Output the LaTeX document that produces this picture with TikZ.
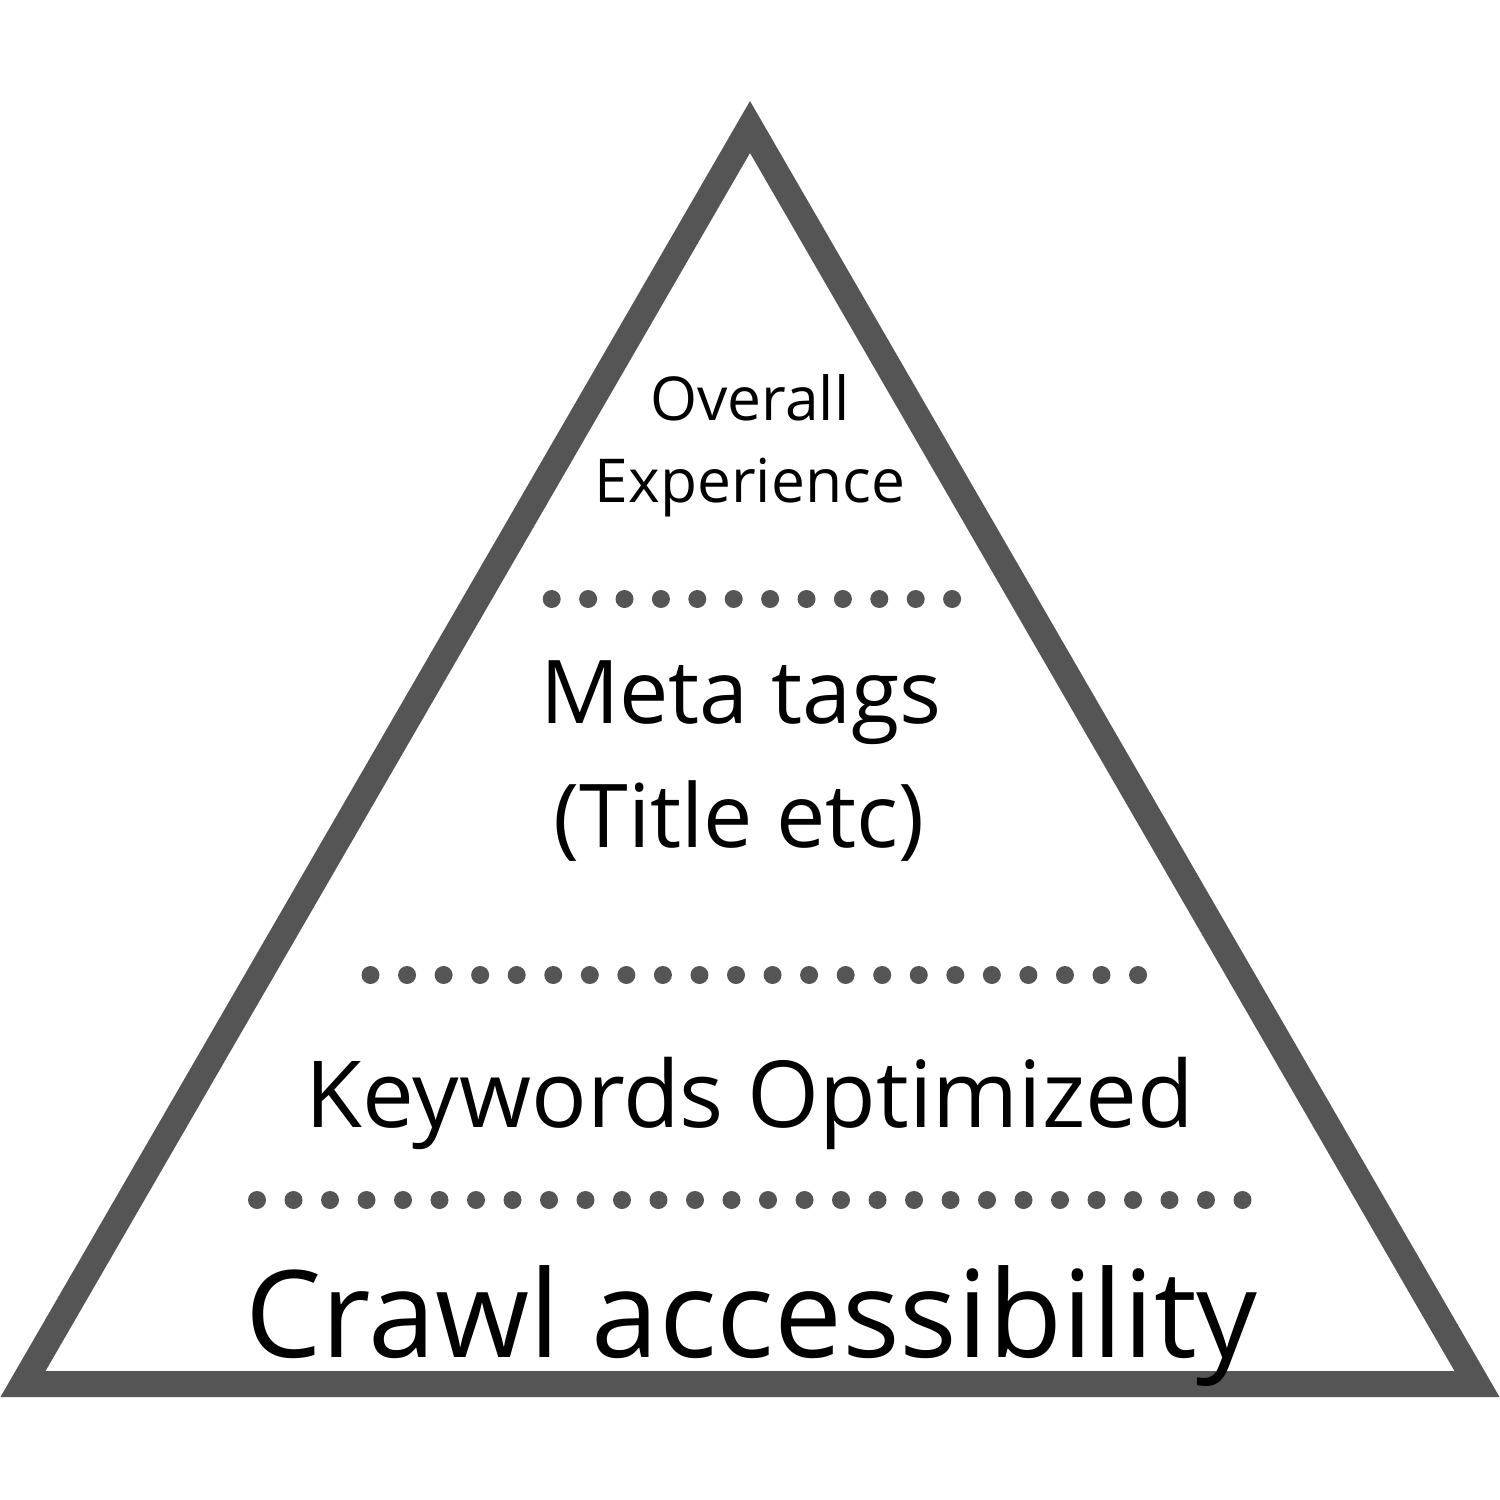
\documentclass[tikz,border=0pt]{standalone}
\usepackage{fontspec}
\setmainfont{Open Sans}
\definecolor{tri}{HTML}{555555}
\tikzset{
  px/.style={x=1pt,y=-1pt},
  label60/.style={anchor=base,inner sep=0pt,font=\fontsize{60.5}{82}\selectfont},
  label88/.style={anchor=base,inner sep=0pt,font=\fontsize{88}{124}\selectfont},
  label92/.style={anchor=base,inner sep=0pt,font=\fontsize{92.5}{120}\selectfont},
  label121/.style={anchor=base,inner sep=0pt,font=\fontsize{121}{150}\selectfont},
  dotfill/.style={fill=tri,draw=none}
}
\begin{document}
\begin{tikzpicture}[px]
\useasboundingbox (0,0) rectangle (1500,1500);
\fill[white] (0,0) rectangle (1500,1500);
% triangle
\coordinate (apex) at (750,127);
\coordinate (bl) at (23,1384);
\coordinate (br) at (1477,1384);
\draw[tri,line width=26pt,line join=miter] (apex) -- (bl) -- (br) -- cycle;
% dotted separators
\foreach \i in {0,...,11} {\fill[dotfill] (551.7+36.4*\i,599) circle (9);}
\foreach \i in {0,...,21} {\fill[dotfill] (370.5+36.55*\i,975) circle (9);}
\foreach \i in {0,...,27} {\fill[dotfill] (257+36.5*\i,1200) circle (9);}
% labels
\node[label60] (ov1) at (750,420) {Overall};
\node[label60] (ov2) at (750,502) {Experience};
\node[label88] (mt1) at (741,723) {Meta tags};
\node[label88] (mt2) at (739,847) {(Title etc)};
\node[label92] (kw) at (750,1127) {Keywords Optimized};
\node[label121] (cr) at (751.5,1357) {Crawl accessibility};
\end{tikzpicture}
\end{document}
